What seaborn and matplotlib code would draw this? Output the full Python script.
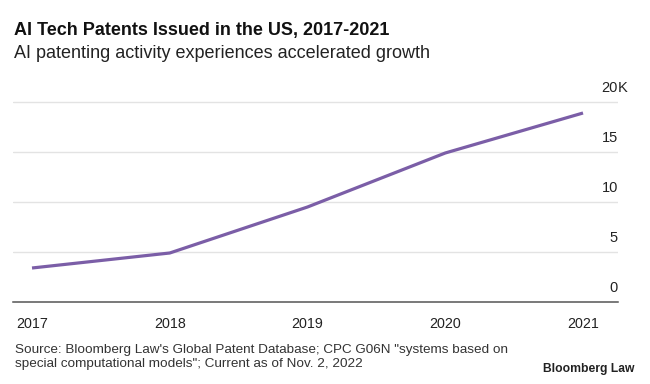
import pandas as pd
import seaborn as sns
import matplotlib.pyplot as plt
import matplotlib.transforms as mtransforms

# Values (thousands of patents)
years = [2017, 2018, 2019, 2020, 2021]
patents_k = [3.4, 4.9, 9.5, 14.9, 18.9]
y_ticks = [0, 5, 10, 15, 20]
y_labels = ["0", "5", "10", "15", "20"]

df = pd.DataFrame({"year": years, "patents": patents_k})

sns.set_style("white")
plt.rcParams['font.family'] = ['Liberation Sans', 'DejaVu Sans']

fig = plt.figure(figsize=(6.5, 3.84), dpi=100)
ax = fig.add_axes([13 / 650, 1 - 302 / 384, 605 / 650, 207 / 384])

sns.lineplot(data=df, x="year", y="patents", ax=ax, color="#7b5ea7",
             linewidth=2.3, solid_capstyle="butt")

ax.set_xlim(2016.862, 2021.254)
ax.set_ylim(0, 20.7)
ax.set_xlabel("")
ax.set_ylabel("")

# gridlines
for t in y_ticks[1:]:
    ax.axhline(t, color="#e3e3e3", linewidth=1, zorder=0)

for s in ["top", "right", "left"]:
    ax.spines[s].set_visible(False)
ax.spines["bottom"].set_color("#555555")
ax.spines["bottom"].set_linewidth(1.1)

ax.set_yticks([])
ax.set_xticks(years)
ax.set_xticklabels([str(y) for y in years], fontsize=10.3, color="#222222")
ax.tick_params(axis="x", length=5, width=1, color="#555555", pad=6)

# y labels on the right, above the gridlines
off = mtransforms.ScaledTranslation(0, 10 / 72, fig.dpi_scale_trans)
trans = mtransforms.blended_transform_factory(ax.transAxes, ax.transData) + off
for t, lab in zip(y_ticks, y_labels):
    ax.text(1.0, t, lab, transform=trans, ha="right", va="center",
            fontsize=10.5, color="#222222")
ax.text(1.0, 20, "K", transform=trans, ha="left", va="center",
        fontsize=10.5, color="#222222")

fig.text(14 / 650, 1 - 31 / 384, "AI Tech Patents Issued in the US, 2017-2021",
         fontsize=13, fontweight="bold", color="#111111", va="center")
fig.text(14 / 650, 1 - 53 / 384, "AI patenting activity experiences accelerated growth",
         fontsize=13, color="#222222", va="center")

fig.text(15 / 650, 1 - 350 / 384,
         "Source: Bloomberg Law's Global Patent Database; CPC G06N \"systems based on",
         fontsize=9.7, color="#333333", va="center")
fig.text(15 / 650, 1 - 364 / 384,
         "special computational models\"; Current as of Nov. 2, 2022",
         fontsize=9.7, color="#333333", va="center")
fig.text(543 / 650, 1 - 369 / 384, "Bloomberg Law", fontsize=8.7,
         fontweight="bold", color="#222222", va="center")

fig.savefig("out.png", dpi=100)
